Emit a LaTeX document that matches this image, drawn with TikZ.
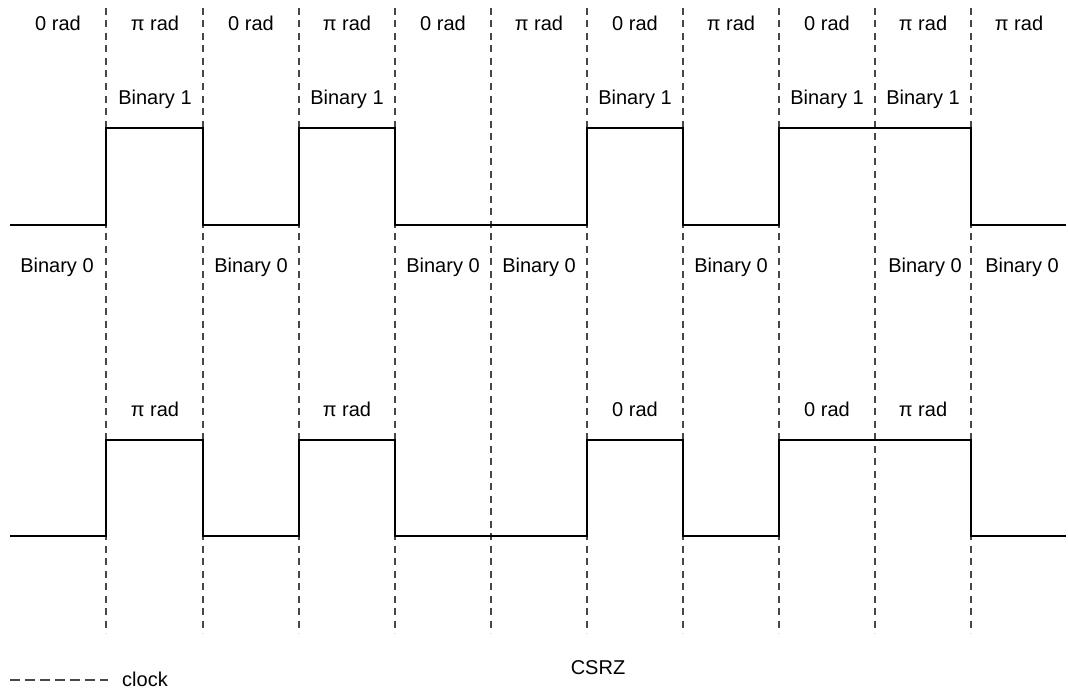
\documentclass[tikz,border=0pt]{standalone}
\usepackage{fontspec}
\setmainfont{Liberation Sans}
\begin{document}
\begin{tikzpicture}[x=1pt,y=-1pt,
  clockline/.style={draw=black!72,line width=1.3pt,dash pattern=on 7pt off 5.5pt},
  wave/.style={draw=black,line width=2pt,line join=miter},
  lbl/.style={font=\fontsize{20}{24}\selectfont,inner sep=0pt,anchor=base}]
\useasboundingbox (0,0) rectangle (1068,693);
% clock lines
\foreach \i/\x in {1/106,2/203,3/299,4/395,5/491,6/587,7/683,8/779,9/875,10/971}{
  \coordinate (t\i) at (\x,8);
  \coordinate (b\i) at (\x,633);
  \draw[clockline] (t\i) -- (b\i);
}
% top waveform
\coordinate (ws) at (10,225);
\coordinate (we) at (1066,225);
\draw[wave] (ws) -- (106,225) -- (106,128) -- (203,128) -- (203,225) -- (299,225) -- (299,128)
  -- (395,128) -- (395,225) -- (587,225) -- (587,128) -- (683,128) -- (683,225) -- (779,225)
  -- (779,128) -- (971,128) -- (971,225) -- (we);
% bottom waveform
\coordinate (vs) at (10,536);
\coordinate (ve) at (1066,536);
\draw[wave] (vs) -- (106,536) -- (106,440) -- (203,440) -- (203,536) -- (299,536) -- (299,440)
  -- (395,440) -- (395,536) -- (587,536) -- (587,440) -- (683,440) -- (683,536) -- (779,536)
  -- (779,440) -- (971,440) -- (971,536) -- (ve);
% top phase labels
\foreach \i/\x/\t in {1/58/0,2/155/π,3/251/0,4/347/π,5/443/0,6/539/π,7/635/0,8/731/π,9/827/0,10/923/π,11/1019/π}{
  \node[lbl] (ph\i) at (\x,31) {\t\ rad};
}
% binary 1 labels
\foreach \i/\x in {1/155,2/347,3/635,4/827,5/923}{
  \node[lbl] (bo\i) at (\x,104) {Binary 1};
}
% binary 0 labels
\foreach \i/\x in {1/57,2/251,3/443,4/539,5/731,6/925,7/1022}{
  \node[lbl] (bz\i) at (\x,272) {Binary 0};
}
% bottom phase labels
\foreach \i/\x/\t in {1/155/π,2/347/π,3/635/0,4/827/0,5/923/π}{
  \node[lbl] (bp\i) at (\x,416) {\t\ rad};
}
% legend
\coordinate (la) at (10,680);
\coordinate (lb) at (108,680);
\draw[clockline,dash pattern=on 10pt off 5pt] (la) -- (lb);
\node[lbl,anchor=base west] (clk) at (122,686) {clock};
\node[lbl] (csrz) at (598,674) {CSRZ};
\end{tikzpicture}
\end{document}
